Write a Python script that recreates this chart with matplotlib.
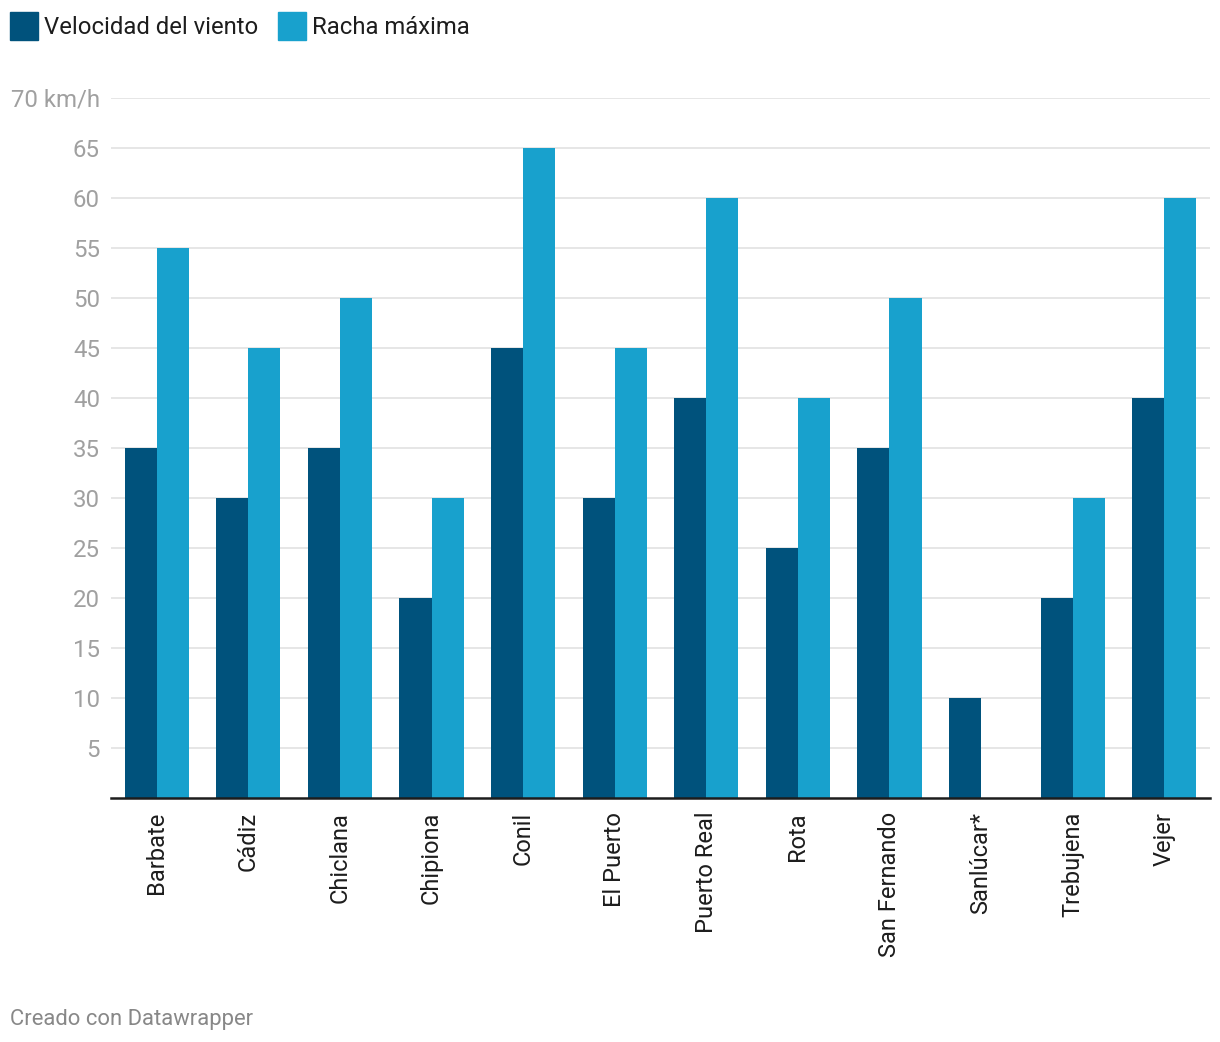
import matplotlib.pyplot as plt
import numpy as np
from matplotlib.patches import Rectangle

plt.rcParams['font.family'] = ['Roboto', 'DejaVu Sans']

# Data
ciudades = ["Barbate", "Cádiz", "Chiclana", "Chipiona", "Conil", "El Puerto",
            "Puerto Real", "Rota", "San Fernando", "Sanlúcar*", "Trebujena", "Vejer"]
velocidad = [35, 30, 35, 20, 45, 30, 40, 25, 35, 10, 20, 40]
racha = [55, 45, 50, 30, 65, 45, 60, 40, 50, 0, 30, 60]
yticks = [5, 10, 15, 20, 25, 30, 35, 40, 45, 50, 55, 60, 65, 70]
ytick_labels = [str(t) for t in yticks[:-1]] + ["70 km/h"]

DARK = "#00527c"
LIGHT = "#18a1cd"

W, H = 1220, 1042
fig = plt.figure(figsize=(W / 100, H / 100), dpi=100)
ax = fig.add_axes([111 / W, 1 - 798 / H, (1210 - 111) / W, 700 / H])

x = np.arange(len(ciudades))
bw = 0.35
ax.bar(x - bw / 2, velocidad, width=bw, color=DARK, zorder=3)
ax.bar(x + bw / 2, racha, width=bw, color=LIGHT, zorder=3)

ax.set_xlim(-0.5, len(ciudades) - 0.5)
ax.set_ylim(0, 70)
ax.set_yticks(yticks)
ax.set_yticklabels(ytick_labels)
ax.set_xticks(x)
ax.set_xticklabels(ciudades, rotation=90)
ax.tick_params(axis='y', length=0, pad=8, labelsize=17.3, labelcolor="#a0a0a0")
ax.tick_params(axis='x', length=0, pad=10, labelsize=17, labelcolor="#1d1d1d")
ax.grid(axis='y', color="#e2e2e2", linewidth=1.2, zorder=0)
for s in ["top", "right", "left"]:
    ax.spines[s].set_visible(False)
ax.spines["bottom"].set_color("#1d1d1d")
ax.spines["bottom"].set_linewidth(1.8)
ax.spines["bottom"].set_zorder(4)

# Legend
def fx(px):
    return px / W

def fy(py):
    return 1 - py / H

fig.patches.append(Rectangle((fx(10), fy(40)), 28 / W, 28 / H, color=DARK,
                             transform=fig.transFigure, figure=fig))
fig.text(fx(44), fy(27), "Velocidad del viento", fontsize=17.2, color="#1d1d1d",
         va="center", ha="left")
fig.patches.append(Rectangle((fx(278), fy(40)), 28 / W, 28 / H, color=LIGHT,
                             transform=fig.transFigure, figure=fig))
fig.text(fx(312), fy(27), "Racha máxima", fontsize=17.2, color="#1d1d1d",
         va="center", ha="left")

fig.text(fx(10), fy(1019), "Creado con Datawrapper", fontsize=15.8, color="#888888",
         va="center", ha="left")

fig.savefig("out.png", dpi=100, facecolor="white")
